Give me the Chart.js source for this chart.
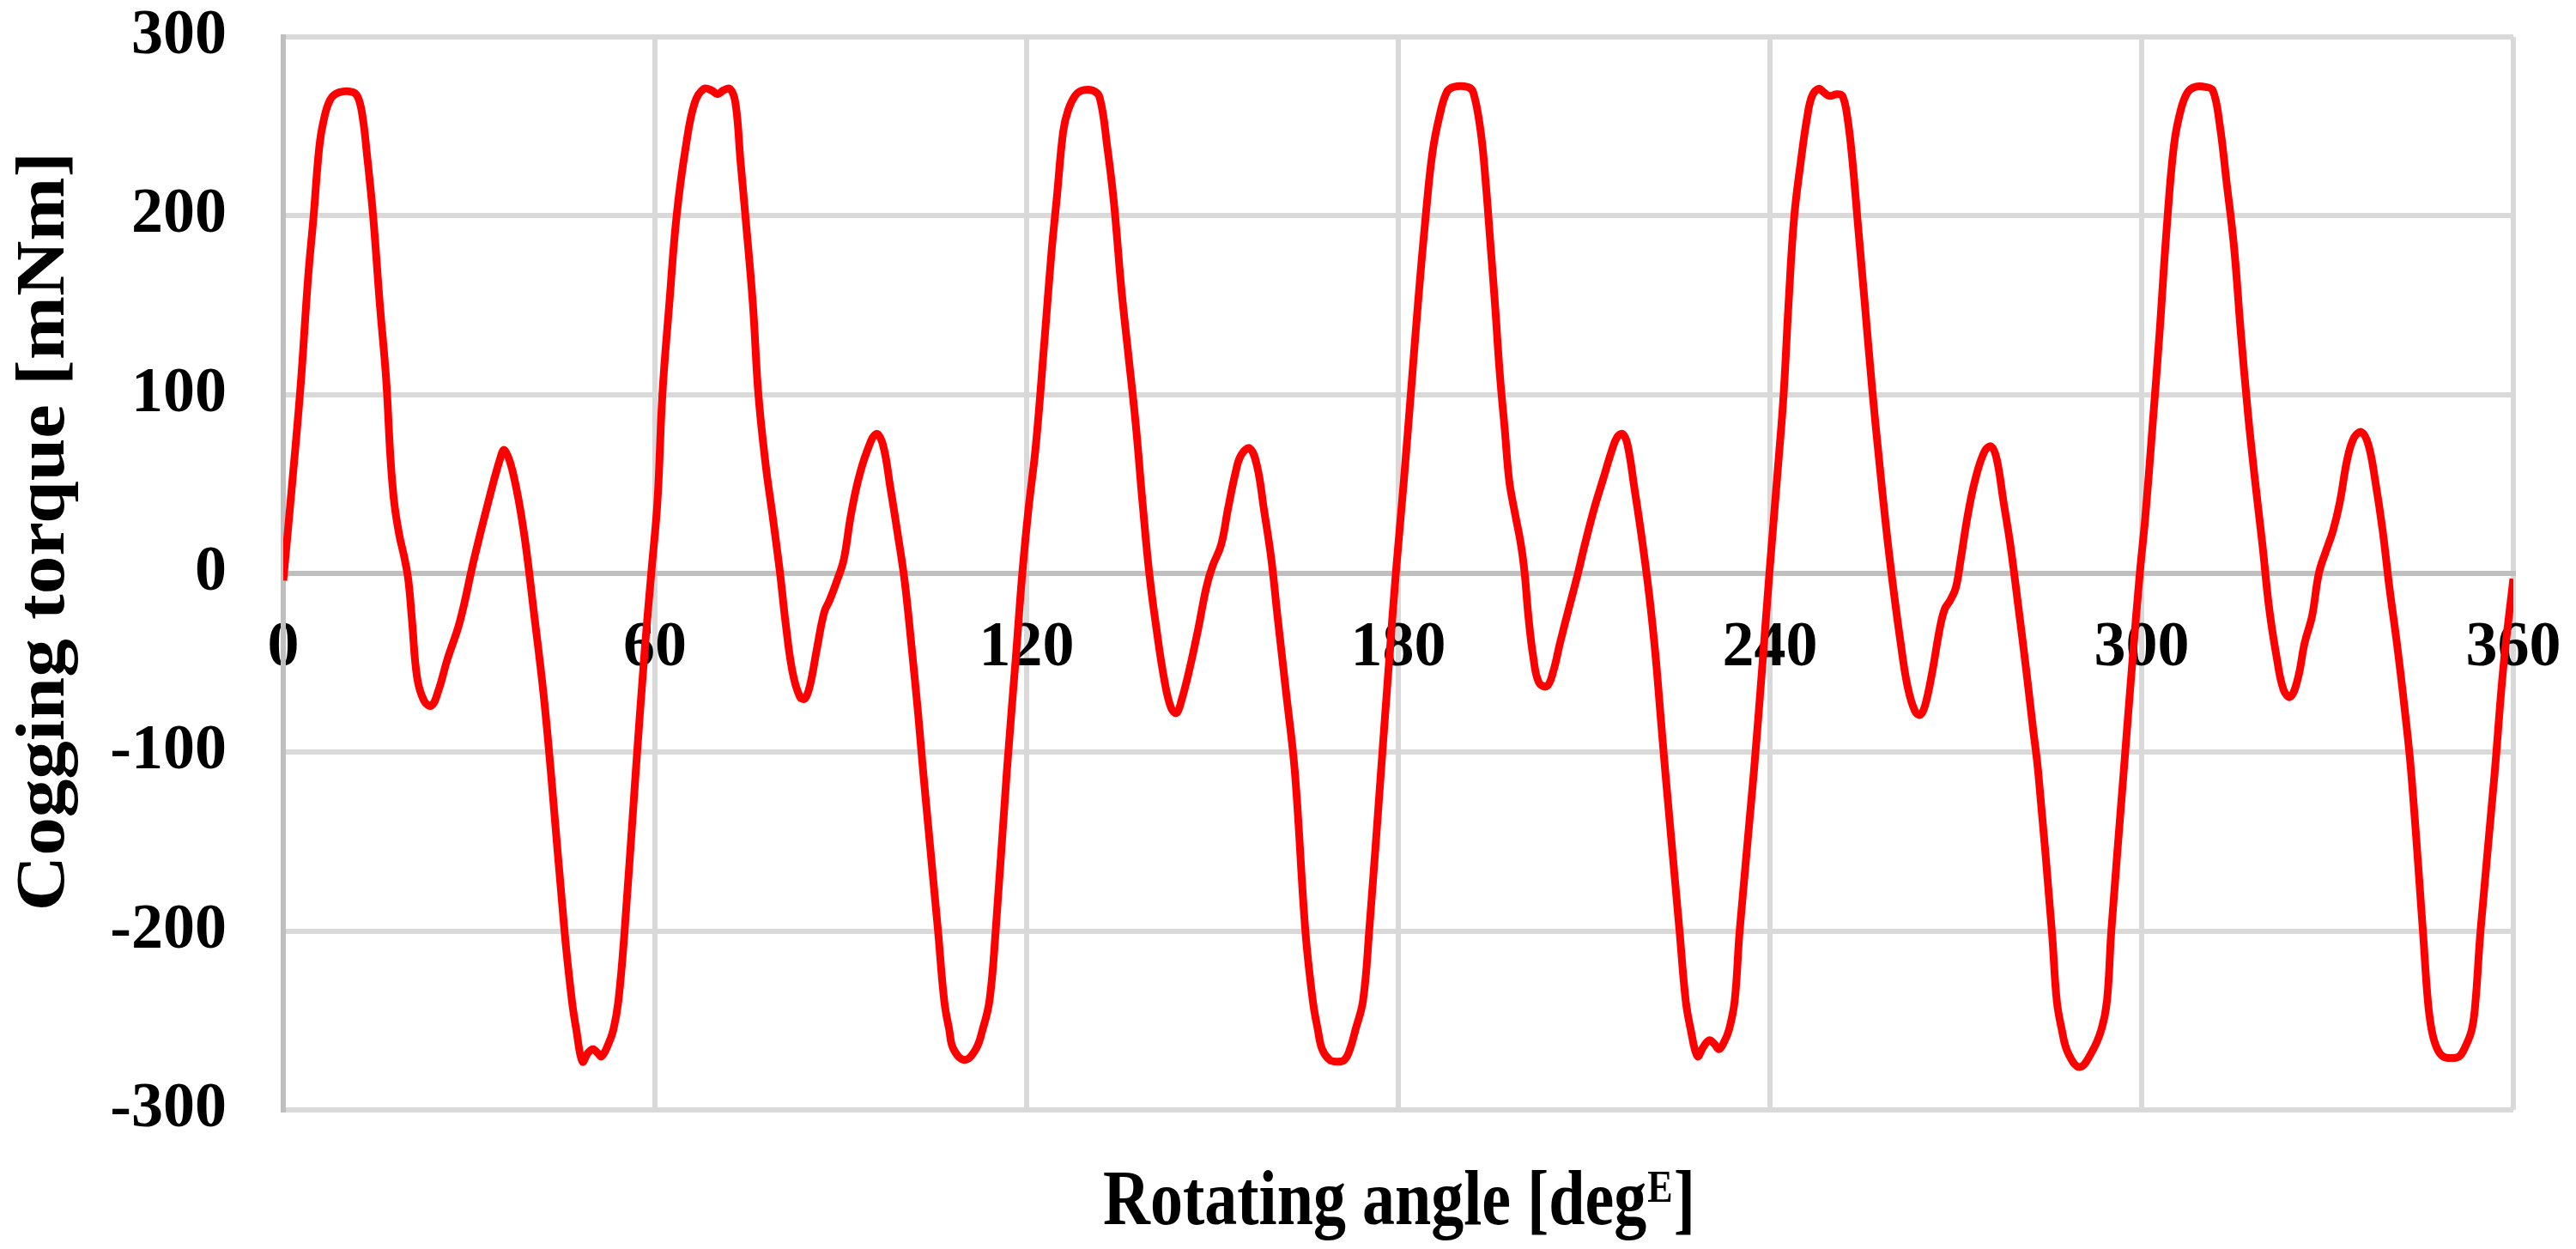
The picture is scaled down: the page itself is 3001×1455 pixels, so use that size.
<!DOCTYPE html>
<html>
<head>
<meta charset="utf-8">
<script src="https://cdn.jsdelivr.net/npm/chart.js@4.4.1/dist/chart.umd.min.js"></script>
<style>
    html, body { margin: 0; padding: 0; background: #fff; }
    #wrap { width: 3001px; height: 1455px; }
</style>
</head>
<body>
<div id="wrap"><canvas id="grafico" width="3001" height="1455"></canvas></div>
<script>
// Rotating angle [degE] and cogging torque [mNm]
const angle = [
    0, 1.3, 2.8, 4.0, 4.9, 5.8, 6.5, 7.6, 9.0, 11.3,
    12.2, 12.9, 13.4, 14.5, 15.6, 16.6, 17.3, 17.9, 18.7, 19.6,
    20.2, 20.8, 21.6, 22.7, 23.9, 25.0, 26.5, 28.5, 30.8, 33.1,
    35.0, 35.7, 37.1, 38.8, 40.5, 42.0, 43.2, 45.4, 46.6, 47.3,
    48.3, 49.2, 50.0, 50.7, 51.4, 52.5, 53.3, 54.1, 55.1, 56.9,
    58.3, 59.4,
    60.4, 61.2, 62.3, 63.5, 65.0, 66.4, 67.9, 69.2, 70.1, 71.0,
    72.1, 73.0, 73.8, 74.6, 75.8, 76.7, 77.9, 79.0, 80.2, 81.1,
    82.2, 83.4, 84.2, 85.0, 86.1, 87.3, 88.2, 89.4, 90.5, 91.6,
    92.8, 94.2, 95.7, 96.8, 98.0, 99.1, 100.3, 101.4, 102.5, 103.3,
    105.7, 106.7, 107.5, 108.2, 110.0, 111.8, 112.9, 114.0, 115.0, 116.8,
    118.3, 119.3,
    120.3, 121.5, 122.9, 124.0, 124.9, 125.9, 126.7, 127.8, 128.9, 130.7,
    131.8, 133.0, 134.1, 135.3, 136.4, 137.6, 138.7, 139.8, 141.0, 142.2,
    143.3, 144.2, 145.0, 146.2, 147.7, 149.0, 150.0, 151.4, 152.5, 153.7,
    154.6, 156.0, 157.2, 158.3, 159.5, 160.5, 161.9, 163.3, 165.0, 166.2,
    167.0, 167.7, 168.9, 170.1, 171.3, 172.2, 173.1, 174.3, 175.3, 177.2,
    178.6, 179.6,
    180.9, 182.1, 183.2, 184.4, 185.5, 186.6, 187.8, 188.9, 191.2, 192.1,
    193.3, 194.1, 194.9, 195.6, 196.4, 197.2, 197.9, 198.7, 199.8, 200.4,
    201.0, 201.8, 202.7, 204.0, 205.0, 206.1, 207.5, 209.0, 210.1, 211.6,
    213.0, 214.4, 215.3, 216.2, 217.0, 218.1, 219.3, 220.5, 221.5, 222.3,
    223.1, 225.4, 226.4, 227.2, 228.3, 229.2, 230.2, 231.0, 231.8, 232.6,
    233.4, 234.3, 235.1, 237.4, 238.8, 239.9,
    241.4, 242.2, 243.0, 243.9, 245.0, 246.0, 246.8, 247.9, 248.7, 249.6,
    250.8, 251.7, 252.5, 253.3, 254.2, 255.3, 256.5, 257.6, 258.8, 259.9,
    261.1, 262.2, 263.4, 264.3, 265.1, 266.2, 267.4, 268.2, 269.1, 270.0,
    270.8, 271.9, 273.1, 274.6, 275.7, 276.6, 277.7, 278.8, 280.0, 281.4,
    282.4, 283.3, 285.5, 286.3, 287.1, 288.1, 290.0, 291.9, 293.5, 294.4,
    295.1, 297.1, 298.6, 299.7,
    300.6, 301.7, 302.9, 304.0, 305.2, 306.3, 307.4, 308.6, 310.3, 311.5,
    312.6, 313.7, 314.9, 316.0, 317.2, 318.3, 319.5, 320.6, 321.8, 322.9,
    324.0, 325.2, 326.3, 327.5, 328.6, 329.7, 330.9, 332.0, 333.2, 334.3,
    335.5, 336.6, 337.7, 338.9, 340.0, 341.2, 342.4, 343.5, 345.4, 346.2,
    346.8, 347.6, 348.6, 350.1, 351.3, 352.2, 353.3, 353.9, 354.7, 357.0,
    358.4, 360
];
const torque = [
    -4, 45, 105, 165, 200, 238, 253, 265, 269, 269,
    265, 253, 238, 200, 150, 109, 65, 40, 22, 8,
    -4, -27, -58, -71, -74, -66, -48, -27, 8, 40,
    64, 69, 56, 24, -23, -67, -111, -200, -239, -255,
    -273, -268, -266, -268, -270, -263, -255, -239, -200, -111,
    -45, 0,
    40, 100, 150, 200, 239, 263, 271, 270, 268, 270,
    271, 263, 231, 200, 151, 100, 60, 32, 0, -28,
    -55, -69, -70, -63, -43, -22, -15, -4, 8, 32,
    52, 68, 78, 72, 48, 24, -4, -40, -79, -111,
    -200, -239, -255, -266, -272, -266, -255, -239, -200, -111,
    -45, 0,
    36, 72, 131, 179, 211, 247, 259, 267, 270, 270,
    266, 239, 207, 159, 123, 84, 40, 0, -32, -59,
    -75, -78, -71, -55, -31, -8, 4, 16, 36, 56,
    66, 70, 60, 36, 8, -24, -67, -111, -200, -239,
    -255, -266, -272, -273, -272, -266, -255, -239, -200, -111,
    -45, 0,
    52, 104, 152, 199, 235, 255, 269, 272, 272, 269,
    247, 219, 183, 151, 111, 80, 52, 36, 16, 0,
    -24, -47, -61, -63, -55, -39, -20, 0, 16, 36,
    52, 68, 76, 78, 72, 48, 20, -12, -45, -78,
    -111, -200, -239, -255, -270, -265, -261, -263, -266, -262,
    -255, -239, -200, -111, -50, 0,
    64, 100, 151, 199, 231, 255, 267, 271, 269, 267,
    268, 267, 255, 231, 195, 151, 103, 64, 24, -8,
    -39, -63, -77, -79, -73, -55, -31, -20, -15, -8,
    8, 32, 52, 68, 71, 64, 40, 16, -16, -55,
    -85, -111, -200, -239, -255, -268, -276, -268, -255, -239,
    -200, -111, -45, 0,
    32, 80, 135, 191, 239, 259, 269, 272, 272, 270,
    251, 219, 183, 135, 88, 52, 16, -20, -47, -65,
    -69, -59, -39, -24, 0, 12, 24, 40, 64, 76,
    79, 72, 52, 24, -8, -39, -74, -111, -200, -239,
    -255, -265, -270, -271, -270, -265, -255, -239, -200, -111,
    -52, -3
];
const xTicks = [0, 60, 120, 180, 240, 300, 360];
const yTicks = [-300, -200, -100, 0, 100, 200, 300];

const yTitle = 'Cogging torque [mNm]';
const xTitle = ['Rotating angle [deg', 'E', ']'];

const serif = '"Liberation Serif", "Times New Roman", serif';

// titulos de ejes dibujados a mano (superindice en el eje x)
const axisTitles = {
    id: 'axisTitles',
    afterDraw(chart) {
        const { ctx, chartArea } = chart;
        ctx.save();
        ctx.fillStyle = '#000';
        ctx.font = 'bold 81px ' + serif;
        ctx.textAlign = 'center';
        ctx.textBaseline = 'middle';
        ctx.translate(53, 619);
        ctx.rotate(-Math.PI / 2);
        ctx.scale(1.1, 1);
        ctx.fillText(yTitle, 0, 0);
        ctx.restore();

        ctx.save();
        ctx.fillStyle = '#000';
        ctx.textBaseline = 'alphabetic';
        ctx.textAlign = 'left';
        const big = 'bold 76px ' + serif, small = 'bold 44px ' + serif;
        ctx.font = big;
        const w1 = ctx.measureText(xTitle[0]).width;
        const w3 = ctx.measureText(xTitle[2]).width;
        ctx.font = small;
        const w2 = ctx.measureText(xTitle[1]).width;
        const cx = (chartArea.left + chartArea.right) / 2;
        ctx.translate(cx - (w1 + w2 + w3) / 2, 1426);
        ctx.scale(1, 1.2);
        ctx.font = big;
        ctx.fillText(xTitle[0], 0, 0);
        ctx.font = small;
        ctx.fillText(xTitle[1], w1 + 1, -22);
        ctx.font = big;
        ctx.fillText(xTitle[2], w1 + w2 + 2, 0);
        ctx.restore();
    }
};

new Chart(document.getElementById('grafico'), {
    type: 'line',
    data: {
        datasets: [{
            label: 'Cogging torque',
            data: angle.map((a, i) => ({ x: a, y: torque[i] })),
            borderColor: '#FF0000',
            borderWidth: 9,
            borderJoinStyle: 'round',
            pointRadius: 0,
            fill: false,
            tension: 0.4
        }]
    },
    options: {
        responsive: false,
        animation: false,
        devicePixelRatio: 1,
        layout: { padding: { top: 43, right: 73, bottom: 162, left: 0 } },
        plugins: { legend: { display: false }, tooltip: { enabled: false } },
        scales: {
            x: {
                type: 'linear',
                min: 0, max: 360,
                position: { y: 0 },
                afterBuildTicks: s => { s.ticks = xTicks.map(v => ({ value: v })); },
                ticks: {
                    color: '#000', padding: 0, maxRotation: 0, autoSkip: false,
                    font: { family: serif, size: 74, weight: 'bold', lineHeight: 1 }
                },
                // marcas invisibles: solo separan las etiquetas de la linea del cero
                grid: { color: '#D9D9D9', lineWidth: 6, drawTicks: true, tickLength: 51, tickColor: 'rgba(0,0,0,0)' },
                border: { color: '#BFBFBF', width: 6 }
            },
            y: {
                min: -300, max: 300,
                afterBuildTicks: s => { s.ticks = yTicks.map(v => ({ value: v })); },
                afterFit: s => { s.width = 330; },
                ticks: {
                    color: '#000', padding: 0,
                    font: { family: serif, size: 74, weight: 'bold', lineHeight: 1 }
                },
                grid: { color: '#D9D9D9', lineWidth: 6, drawTicks: true, tickLength: 66, tickColor: 'rgba(0,0,0,0)' },
                border: { color: '#BFBFBF', width: 6 }
            }
        }
    },
    plugins: [axisTitles]
});
</script>
</body>
</html>
